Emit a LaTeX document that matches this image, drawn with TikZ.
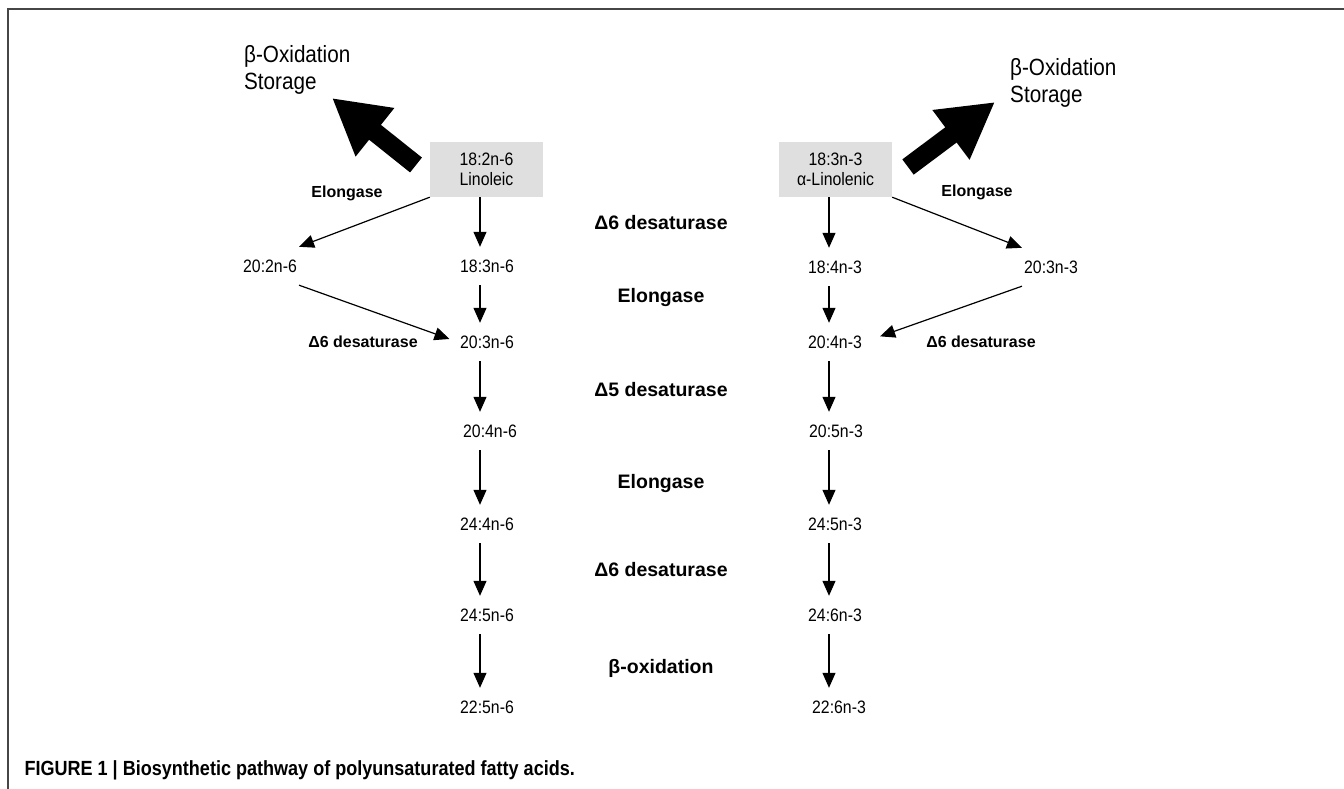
\documentclass[tikz,border=0pt]{standalone}
\usepackage{fontspec}
\setmainfont{Liberation Sans}
\newfontfamily\estrecha[FakeStretch=0.88]{Liberation Sans}
\usepackage{tikz}
\usetikzlibrary{calc,positioning,arrows.meta}
\usepackage{xcolor}
\definecolor{cajagris}{RGB}{223,223,223}
\definecolor{marco}{RGB}{70,70,70}

\tikzset{
  acido/.style={font=\estrecha\fontsize{18}{19.5}\selectfont, minimum height=38pt, inner xsep=2pt, inner ysep=0pt},
  caja/.style={acido, fill=cajagris, minimum width=113pt, minimum height=55pt, align=center},
  enzima/.style={font=\bfseries\fontsize{19.5}{22}\selectfont},
  enzlado/.style={font=\bfseries\fontsize{16}{18}\selectfont},
  destino/.style={font=\estrecha\fontsize{23.5}{27}\selectfont, align=left, inner sep=0pt, anchor=west},
  flecha/.style={line width=1.2pt, -{Triangle[length=15pt,width=13pt]}},
  flechota/.style={line width=19pt, -{Triangle[length=55pt,width=58pt]}}
}

\begin{document}
\begin{tikzpicture}[x=1pt,y=-1pt]
\useasboundingbox (0,0) rectangle (1344,789);

%====================================================
% MARCO DE LA FIGURA
%====================================================
\draw[marco, line width=1.5pt] (8,789) -- (8,9) -- (1344,9);

%====================================================
% ACIDOS DE PARTIDA
%====================================================
\node[caja] (lin) at (486.5,169.5) {18:2n-6\\Linoleic};
\node[caja] (aln) at (835.5,169.5) {18:3n-3\\α-Linolenic};

\node[destino] (oxI) at (244,70) {β-Oxidation\\Storage};
\node[destino] (oxD) at (1010,83) {β-Oxidation\\Storage};

\coordinate (colaI) at (416,165);
\coordinate (puntaI) at (332,98);
\coordinate (colaD) at (908,167);
\coordinate (puntaD) at (995,102);
\draw[flechota] (colaI) -- (puntaI);
\draw[flechota] (colaD) -- (puntaD);

%====================================================
% SERIE n-6
%====================================================
\node[acido] (a1) at (487,266) {18:3n-6};
\node[acido] (a2) at (487,342) {20:3n-6};
\node[acido] (a3) at (490,431) {20:4n-6};
\node[acido] (a4) at (487,524) {24:4n-6};
\node[acido] (a5) at (487,615) {24:5n-6};
\node[acido] (a6) at (487,707) {22:5n-6};
\node[acido] (s1) at (270,266) {20:2n-6};

%====================================================
% SERIE n-3
%====================================================
\node[acido] (b1) at (835,267) {18:4n-3};
\node[acido] (b2) at (835,342) {20:4n-3};
\node[acido] (b3) at (836,431) {20:5n-3};
\node[acido] (b4) at (835,524) {24:5n-3};
\node[acido] (b5) at (835,615) {24:6n-3};
\node[acido] (b6) at (839,707) {22:6n-3};
\node[acido] (s2) at (1051,267) {20:3n-3};

%====================================================
% ENZIMAS
%====================================================
\node[enzima] (e1) at (661,223) {Δ6 desaturase};
\node[enzima] (e2) at (661,297) {Elongase};
\node[enzima] (e3) at (661,390) {Δ5 desaturase};
\node[enzima] (e4) at (661,483) {Elongase};
\node[enzima] (e5) at (661,570) {Δ6 desaturase};
\node[enzima] (e6) at (661,668) {β-oxidation};

\node[enzlado] (elI) at (347,193) {Elongase};
\node[enzlado] (dsI) at (363,342) {Δ6 desaturase};
\node[enzlado] (elD) at (977,192) {Elongase};
\node[enzlado] (dsD) at (981,342) {Δ6 desaturase};

%====================================================
% FLECHAS
%====================================================
\coordinate (colL) at (480,0);
\coordinate (colR) at (829,0);
\foreach \de/\a in {lin/a1,a1/a2,a2/a3,a3/a4,a4/a5,a5/a6}
  \draw[flecha] (\de.south -| colL) -- (\a.north -| colL);
\foreach \de/\a in {aln/b1,b1/b2,b2/b3,b3/b4,b4/b5,b5/b6}
  \draw[flecha] (\de.south -| colR) -- (\a.north -| colR);

\draw[flecha] (lin.south west) -- (s1.north east);
\draw[flecha, shorten >=9pt] (s1.south east) -- (a2.west);
\draw[flecha] (aln.south east) -- (s2.north west);
\draw[flecha, shorten >=17pt] (s2.south west) -- (b2.east);

%====================================================
% PIE
%====================================================
\node[anchor=west, font=\estrecha\bfseries\fontsize{20.5}{23}\selectfont] (pie) at (21,770)
  {FIGURE 1 | Biosynthetic pathway of polyunsaturated fatty acids.};
\end{tikzpicture}
\end{document}
